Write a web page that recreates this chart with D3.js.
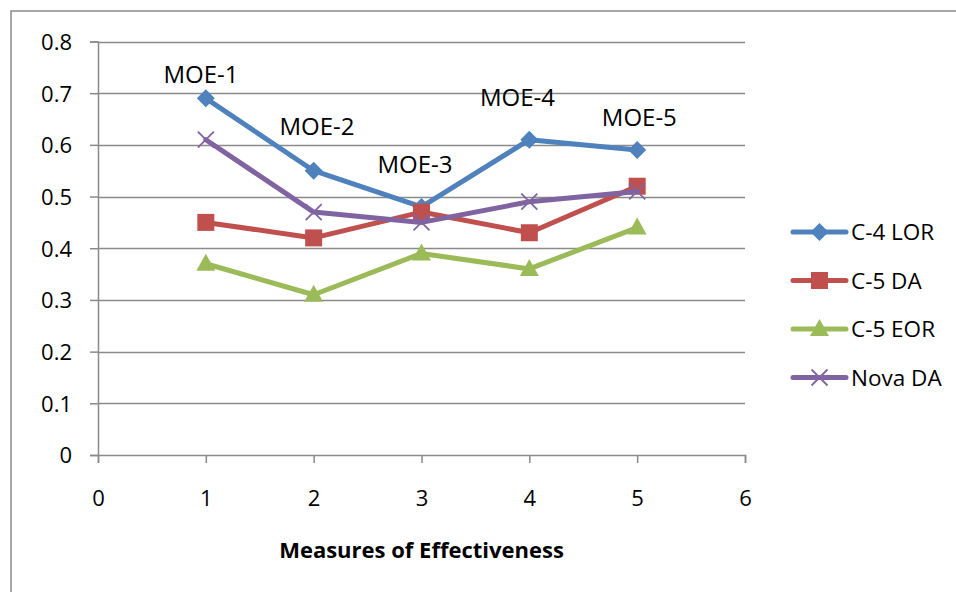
<!DOCTYPE html>
<html><head><meta charset="utf-8">
<script src="https://cdn.jsdelivr.net/npm/d3@7"></script>
<style>body{margin:0;background:#fff}svg{display:block}text{font-family:"Open Sans",Lato,sans-serif;fill:#000}</style>
</head><body><svg id="c" width="956" height="592"></svg>
<script>
const xValues = [1, 2, 3, 4, 5];
const seriesNames = ["C-4 LOR", "C-5 DA", "C-5 EOR", "Nova DA"];
const c4Lor = [0.69, 0.55, 0.48, 0.61, 0.59];
const c5Da = [0.45, 0.42, 0.47, 0.43, 0.52];
const c5Eor = [0.37, 0.31, 0.39, 0.36, 0.44];
const novaDa = [0.61, 0.47, 0.45, 0.49, 0.51];
const seriesColors = ["#4F81BD", "#C0504D", "#9BBB59", "#8064A2"];
const seriesMarkers = ["diamond", "square", "triangle", "x"];
const xTicks = [0, 1, 2, 3, 4, 5, 6];
const yTicks = [0, 0.1, 0.2, 0.3, 0.4, 0.5, 0.6, 0.7, 0.8];
const moeLabels = ["MOE-1", "MOE-2", "MOE-3", "MOE-4", "MOE-5"];
const moeLabelX = [0.955, 2.03, 2.94, 3.89, 5.02];
const moeLabelY = [0.72, 0.619, 0.545, 0.675, 0.636];
const xTitle = "Measures of Effectiveness";

const seriesValues = [c4Lor, c5Da, c5Eor, novaDa];
const svg = d3.select("#c");
const x = d3.scaleLinear().domain([0, 6]).range([98, 745]);
const y = d3.scaleLinear().domain([0, 0.8]).range([455, 41.5]);
const grey = "#8a8a8a";

// outer frame
svg.append("path").attr("d", "M11,592 V11 H956").attr("fill", "none").attr("stroke", grey).attr("stroke-width", 1.5);

// gridlines
svg.append("g").selectAll("line").data(yTicks.filter(d => d > 0)).join("line")
  .attr("x1", x(0)).attr("x2", x(6)).attr("y1", d => Math.round(y(d)) + 0.5).attr("y2", d => Math.round(y(d)) + 0.5)
  .attr("stroke", grey).attr("stroke-width", 1.5);

// y axis
const ya = svg.append("g").attr("transform", `translate(${x(0)},0)`)
  .call(d3.axisLeft(y).tickValues(yTicks).tickSize(8).tickPadding(18).tickFormat(d => d === 0 ? "0" : d3.format(".1f")(d)));
// x axis
const xa = svg.append("g").attr("transform", `translate(0,${y(0)})`)
  .call(d3.axisBottom(x).tickValues(xTicks).tickSize(8).tickPadding(27).tickFormat(d3.format("d")));
[ya, xa].forEach(a => {
  a.select(".domain").attr("stroke", grey).attr("stroke-width", 1.5);
  a.selectAll(".tick line").attr("stroke", grey).attr("stroke-width", 1.5);
  a.selectAll("text").style("font-size", "22px").attr("fill", "#000").style("font-family", "'Open Sans',sans-serif");
});
ya.selectAll("text").attr("dy", "0.36em");

// x title
svg.append("text").attr("x", (x(0) + x(6)) / 2).attr("y", 558).attr("text-anchor", "middle")
  .style("font-size", "22px").style("font-weight", "bold").text(xTitle);

function marker(g, type, color, cx, cy) {
  if (type === "diamond") {
    g.append("path").attr("d", `M${cx},${cy - 9}L${cx + 9},${cy}L${cx},${cy + 9}L${cx - 9},${cy}Z`).attr("fill", color);
  } else if (type === "square") {
    g.append("rect").attr("x", cx - 8.5).attr("y", cy - 8.5).attr("width", 17).attr("height", 17).attr("fill", color);
  } else if (type === "triangle") {
    g.append("path").attr("d", `M${cx},${cy - 10}L${cx + 9.5},${cy + 7}L${cx - 9.5},${cy + 7}Z`).attr("fill", color);
  } else {
    g.append("path").attr("d", `M${cx - 8},${cy - 8}L${cx + 8},${cy + 8}M${cx + 8},${cy - 8}L${cx - 8},${cy + 8}`)
      .attr("stroke", color).attr("stroke-width", 1.8);
  }
}

const line = d3.line().x((d, i) => x(xValues[i])).y(d => y(d));
seriesValues.forEach((vals, si) => {
  const g = svg.append("g");
  g.append("path").attr("d", line(vals)).attr("fill", "none").attr("stroke", seriesColors[si])
    .attr("stroke-width", 5).attr("stroke-linejoin", "round").attr("stroke-linecap", "round");
  vals.forEach((v, i) => marker(g, seriesMarkers[si], seriesColors[si], x(xValues[i]), y(v)));
});

// MOE labels
svg.append("g").selectAll("text").data(moeLabels).join("text")
  .attr("x", (d, i) => x(moeLabelX[i])).attr("y", (d, i) => y(moeLabelY[i]))
  .attr("text-anchor", "middle").style("font-size", "24px").text(d => d);

// legend
const lg = svg.append("g");
seriesNames.forEach((name, i) => {
  const cy = 232 + i * 48.5;
  lg.append("line").attr("x1", 793).attr("x2", 846).attr("y1", cy).attr("y2", cy)
    .attr("stroke", seriesColors[i]).attr("stroke-width", 5).attr("stroke-linecap", "round");
  marker(lg, seriesMarkers[i], seriesColors[i], 819.5, cy);
  lg.append("text").attr("x", 851).attr("y", cy).attr("dy", "0.36em").style("font-size", "22.5px").text(name);
});
</script></body></html>
